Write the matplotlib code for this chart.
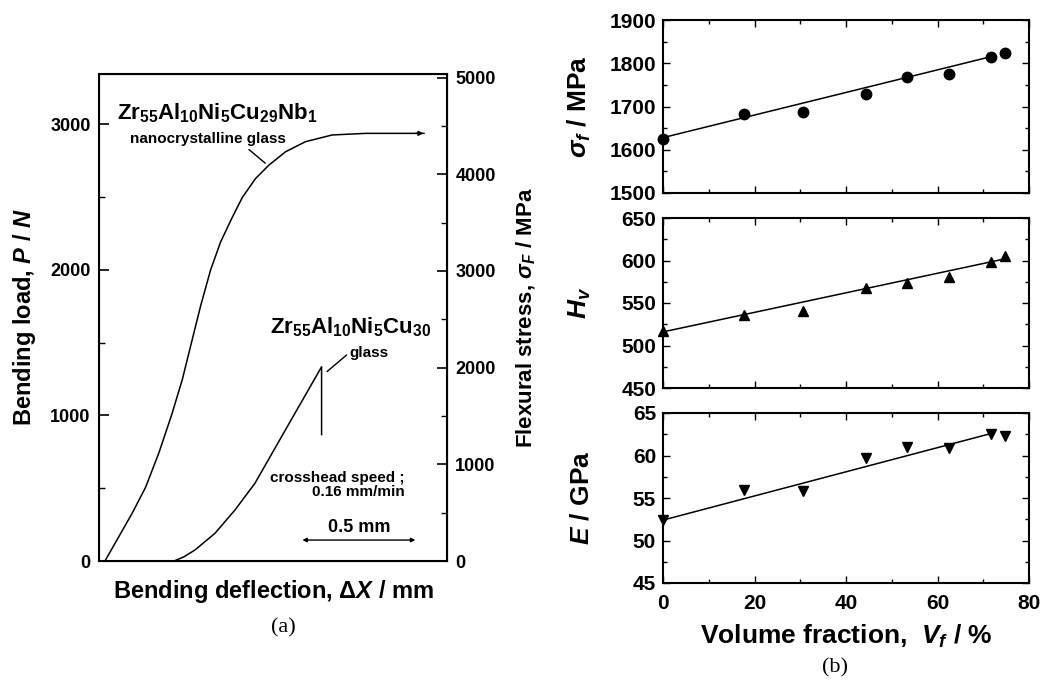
import numpy as np
import matplotlib
matplotlib.use('Agg')
import matplotlib.pyplot as plt
from matplotlib.ticker import MultipleLocator, NullLocator

plt.rcParams['font.family'] = ['Liberation Sans', 'DejaVu Sans']
plt.rcParams['font.weight'] = 'bold'
plt.rcParams['axes.labelweight'] = 'bold'
plt.rcParams['mathtext.fontset'] = 'custom'
plt.rcParams['mathtext.rm'] = 'Liberation Sans:bold'
plt.rcParams['mathtext.it'] = 'Liberation Sans:italic:bold'
plt.rcParams['mathtext.bf'] = 'Liberation Sans:bold'
plt.rcParams['mathtext.sf'] = 'Liberation Sans:bold'

# (a) load - deflection curves (deflection in mm, load in N)
nano_x = [0.029, 0.088, 0.147, 0.206, 0.265, 0.322, 0.369, 0.41, 0.45, 0.494,
          0.538, 0.587, 0.634, 0.693, 0.752, 0.826, 0.914, 1.032, 1.18, 1.438]
nano_p = [7, 168, 329, 506, 743, 1007, 1249, 1506, 1755, 2001,
          2192, 2353, 2498, 2629, 2721, 2813, 2882, 2928, 2939, 2939]
glass_x = [0.332, 0.375, 0.425, 0.513, 0.602, 0.69, 0.779, 0.867, 0.956, 0.985, 0.985]
glass_p = [0, 28, 76, 190, 351, 534, 776, 1015, 1256, 1335, 869]
stress_factor = 1.505   # sigma_F (MPa) per N

# (b) properties vs volume fraction
vf = [0, 17.6, 30.6, 44.3, 53.3, 62.6, 71.6, 74.8]
sigma_f = [1626, 1682, 1688, 1728, 1769, 1775, 1815, 1823]
hv = [517, 536, 541, 568, 574, 581, 598, 605]
e_mod = [52.4, 55.9, 55.8, 59.7, 61.0, 60.9, 62.5, 62.3]

sigma_fit_x, sigma_fit_y = [0, 71.6], [1628, 1815]
hv_fit_x, hv_fit_y = [0, 74.8], [516, 602]
e_fit_x, e_fit_y = [0, 71.8], [52.4, 62.6]

W, H = 1056, 684
fig = plt.figure(figsize=(W / 100, H / 100), dpi=100)


def px_axes(x0, y0, x1, y1):
    return fig.add_axes([x0 / W, (H - y1) / H, (x1 - x0) / W, (y1 - y0) / H])


# ---------------- panel (a) ----------------
ax = px_axes(99, 74, 447, 561)
ax.plot(nano_x, nano_p, color='black', lw=1.1)
ax.plot(glass_x, glass_p, color='black', lw=1.1)
ax.annotate('', xy=(nano_x[-1] + 0.01, nano_p[-1]), xytext=(nano_x[-1] - 0.05, nano_p[-1]),
            arrowprops=dict(arrowstyle='-|>', color='black', lw=1.0, mutation_scale=7))
ax.set_xlim(0, 1.54)
ax.set_ylim(0, 3347)
ax.xaxis.set_major_locator(NullLocator())
ax.yaxis.set_major_locator(MultipleLocator(1000))
ax.yaxis.set_minor_locator(MultipleLocator(500))
ax.tick_params(axis='y', which='major', direction='in', length=7, width=1.2,
               labelsize=13, pad=6)
ax.tick_params(axis='y', which='minor', direction='in', length=4, width=1.0)
for s in ax.spines.values():
    s.set_linewidth(1.5)
ax.set_ylabel('Bending load, $P$ / $N$', fontsize=17, labelpad=9)
ax.set_xlabel(r'Bending deflection, $\mathit{\Delta X}$ / mm', fontsize=17, labelpad=12)

ax2 = ax.twinx()
ax2.set_ylim(0, 3347 * stress_factor)
ax2.yaxis.set_major_locator(MultipleLocator(1000))
ax2.yaxis.set_minor_locator(MultipleLocator(500))
ax2.tick_params(axis='y', which='major', direction='in', length=7, width=1.2,
                labelsize=13, pad=6)
ax2.tick_params(axis='y', which='minor', direction='in', length=4, width=1.0)
ax2.set_ylabel(r'Flexural stress, $\sigma_F$ / MPa', fontsize=16, labelpad=14)

ax.text(0.078, 3077, r'Zr$_{55}$Al$_{10}$Ni$_{5}$Cu$_{29}$Nb$_{1}$', fontsize=16,
        va='center', ha='left')
ax.text(0.137, 2898, 'nanocrystalline glass', fontsize=11, va='center', ha='left')
ax.annotate('', xy=(0.745, 2722), xytext=(0.654, 2840),
            arrowprops=dict(arrowstyle='-', color='black', lw=1.0))
ax.text(0.757, 1610, r'Zr$_{55}$Al$_{10}$Ni$_{5}$Cu$_{30}$', fontsize=16,
        va='center', ha='left')
ax.text(1.11, 1430, 'glass', fontsize=11, va='center', ha='left')
ax.annotate('', xy=(1.0, 1290), xytext=(1.105, 1428),
            arrowprops=dict(arrowstyle='-', color='black', lw=1.0))
ax.text(1.354, 522, 'crosshead speed ;\n0.16 mm/min', fontsize=11, va='center',
        ha='right', multialignment='right', linespacing=1.05)
ax.annotate('', xy=(0.9, 144), xytext=(1.4, 144),
            arrowprops=dict(arrowstyle='<|-|>', color='black', lw=1.0, mutation_scale=6,
                            shrinkA=0, shrinkB=0))
ax.text(1.15, 227, '0.5 mm', fontsize=13, va='center', ha='center')

fig.text(283 / W, 1 - 628 / H, '(a)', family='Liberation Serif', weight='normal',
         fontsize=16, ha='center', va='center')

# ---------------- panel (b) ----------------
panels = [
    (20, 193, sigma_f, sigma_fit_x, sigma_fit_y, 'o', 7.5, (1500, 1900), 100,
     r'$\sigma_f$ / MPa'),
    (218, 388, hv, hv_fit_x, hv_fit_y, '^', 6.5, (450, 650), 50, r'$H_v$'),
    (413, 583, e_mod, e_fit_x, e_fit_y, 'v', 6.5, (45, 65), 5, r'$E$ / GPa'),
]
for i, (top, bot, yv, fx, fy, mk, ms, ylim, step, lab) in enumerate(panels):
    b = px_axes(663, top, 1029, bot)
    b.plot(fx, fy, color='black', lw=1.1)
    b.plot(vf, yv, linestyle='none', marker=mk, markersize=ms, color='black',
           clip_on=False)
    b.set_xlim(0, 80)
    b.set_ylim(*ylim)
    b.xaxis.set_major_locator(MultipleLocator(20))
    b.xaxis.set_minor_locator(MultipleLocator(10))
    b.yaxis.set_major_locator(MultipleLocator(step))
    b.yaxis.set_minor_locator(MultipleLocator(step / 2))
    b.tick_params(which='both', direction='in', top=True, right=True, width=1.0)
    b.tick_params(which='major', length=5, labelsize=15, pad=5)
    b.tick_params(which='minor', length=3)
    for s in b.spines.values():
        s.set_linewidth(1.5)
    b.set_ylabel(lab, fontsize=19, labelpad=4)
    b.yaxis.set_label_coords(-0.19, 0.5)
    if i < 2:
        b.tick_params(labelbottom=False)
    else:
        b.tick_params(axis='x', pad=8)
        b.set_xlabel('Volume fraction,  $V_f$ / %', fontsize=19, labelpad=7)

fig.text(835 / W, 1 - 668 / H, '(b)', family='Liberation Serif', weight='normal',
         fontsize=16, ha='center', va='center')

fig.savefig('out.png', dpi=100)
